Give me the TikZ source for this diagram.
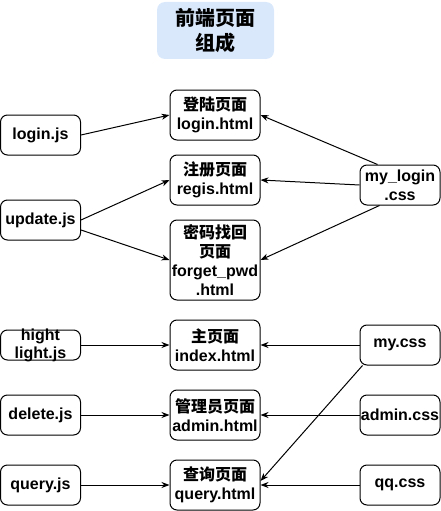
\documentclass[tikz,border=0pt]{standalone}
\usepackage{fontspec}
\setmainfont{Liberation Sans}
\newfontfamily\cjk{Noto Sans CJK SC}
\usepackage{xcolor}
\definecolor{titleblue}{RGB}{218,232,252}
\usetikzlibrary{arrows.meta}

\begin{document}
\begin{tikzpicture}[x=1pt, y=-1pt,
  fbox/.style={rectangle, rounded corners=7pt, draw=black, line width=1pt,
               minimum width=80pt, minimum height=40pt, inner sep=0pt,
               align=center, font=\fontsize{16}{19}\selectfont\bfseries},
  pbox/.style={fbox, minimum width=90pt, minimum height=50pt},
  arr/.style={-{Stealth[length=8pt, width=6pt, inset=2.5pt]}, line width=1pt}
]
\useasboundingbox (0,0) rectangle (441,511);

% Title
\node[rectangle, rounded corners=8pt, fill=titleblue, minimum width=117pt,
      minimum height=57pt, align=center,
      font=\fontsize{20}{25}\selectfont\bfseries\cjk] (title) at (215.5,30.5)
  {前端页面\\组成};

% Page nodes
\node[pbox] (loginHtml)  at (215,115) {{\cjk 登陆页面}\\login.html};
\node[pbox] (regisHtml)  at (215,180) {{\cjk 注册页面}\\regis.html};
\node[pbox, minimum height=80pt] (forgetHtml) at (215,260)
  {{\cjk 密码找回}\\{\cjk 页面}\\forget\_pwd\\.html};
\node[pbox] (indexHtml)  at (215,345) {{\cjk 主页面}\\index.html};
\node[pbox] (adminHtml)  at (215,415) {{\cjk 管理员页面}\\admin.html};
\node[pbox] (queryHtml)  at (215,485) {{\cjk 查询页面}\\query.html};

% Script nodes
\node[fbox] (loginJs)  at (40.5,135) {login.js};
\node[fbox] (updateJs) at (40.5,220) {update.js};
\node[fbox, minimum height=30pt,
      label={[align=center, font=\fontsize{16}{18}\selectfont\bfseries]center:{hight\\light.js}}]
  (hlJs) at (40.5,345) {};
\node[fbox] (deleteJs) at (40.5,415) {delete.js};
\node[fbox] (queryJs)  at (40.5,485) {query.js};

% Style nodes
\node[fbox] (myLogin)  at (400,185) {my\_login\\.css};
\node[fbox] (myCss)    at (400,345) {my.css};
\node[fbox] (adminCss) at (400,415) {admin.css};
\node[fbox] (qqCss)    at (400,485) {qq.css};

% Arrows
\draw[arr] (loginJs.east) -- (loginHtml.west);
\draw[arr] (updateJs.east) -- (regisHtml.west);
\draw[arr] ([yshift=-10pt]updateJs.east) -- (forgetHtml.west);
\draw[arr] ([xshift=18pt]myLogin.north west) -- (loginHtml.east);
\draw[arr] (myLogin.west) -- (regisHtml.east);
\draw[arr] ([xshift=20pt]myLogin.south west) -- (forgetHtml.east);

\draw[arr] (hlJs.east) -- (indexHtml.west);
\draw[arr] (deleteJs.east) -- (adminHtml.west);
\draw[arr] (queryJs.east) -- (queryHtml.west);
\draw[arr] (myCss.west) -- (indexHtml.east);
\draw[arr] (adminCss.west) -- (adminHtml.east);
\draw[arr] (qqCss.west) -- (queryHtml.east);
\draw[arr] ([xshift=3pt]myCss.south west) -- ([yshift=4pt]queryHtml.east);
\end{tikzpicture}
\end{document}
